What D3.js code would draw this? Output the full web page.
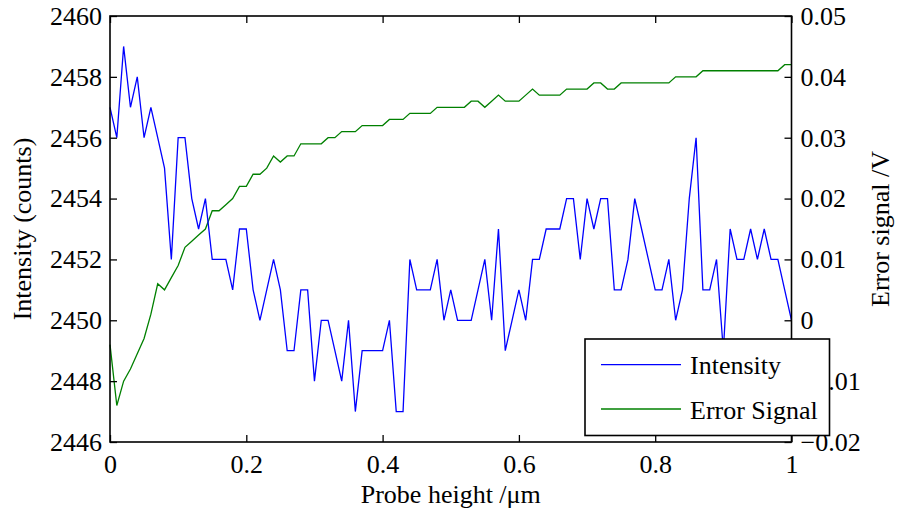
<!DOCTYPE html>
<html>
<head>
<meta charset="utf-8">
<script src="https://cdn.jsdelivr.net/npm/d3@7"></script>
<style>
  html, body { margin: 0; padding: 0; background: #fff; }
  svg { display: block; }
  text { font-family: "Liberation Serif", "Times New Roman", serif; fill: #000; }
</style>
</head>
<body>
<svg id="chart" width="897" height="514"></svg>
<script>
// ---- data ----
const probeHeight = [0,0.01,0.02,0.03,0.04,0.05,0.06,0.07,0.08,0.09,
  0.1,0.11,0.12,0.13,0.14,0.15,0.16,0.17,0.18,0.19,
  0.2,0.21,0.22,0.23,0.24,0.25,0.26,0.27,0.28,0.29,
  0.3,0.31,0.32,0.33,0.34,0.35,0.36,0.37,0.38,0.39,
  0.4,0.41,0.42,0.43,0.44,0.45,0.46,0.47,0.48,0.49,
  0.5,0.51,0.52,0.53,0.54,0.55,0.56,0.57,0.58,0.59,
  0.6,0.61,0.62,0.63,0.64,0.65,0.66,0.67,0.68,0.69,
  0.7,0.71,0.72,0.73,0.74,0.75,0.76,0.77,0.78,0.79,
  0.8,0.81,0.82,0.83,0.84,0.85,0.86,0.87,0.88,0.89,
  0.9,0.91,0.92,0.93,0.94,0.95,0.96,0.97,0.98,0.99,1];

const intensity = [2457,2456,2459,2457,2458,2456,2457,2456,2455,2452,
  2456,2456,2454,2453,2454,2452,2452,2452,2451,2453,
  2453,2451,2450,2451,2452,2451,2449,2449,2451,2451,
  2448,2450,2450,2449,2448,2450,2447,2449,2449,2449,
  2449,2450,2447,2447,2452,2451,2451,2451,2452,2450,
  2451,2450,2450,2450,2451,2452,2450,2453,2449,2450,
  2451,2450,2452,2452,2453,2453,2453,2454,2454,2452,
  2454,2453,2454,2454,2451,2451,2452,2454,2453,2452,
  2451,2451,2452,2450,2451,2454,2456,2451,2451,2452,
  2449,2453,2452,2452,2453,2452,2453,2452,2452,2451,2450];

const errorSignal = [-0.004,-0.014,-0.010,-0.008,-0.0055,-0.003,0.001,0.006,0.005,0.007,
  0.009,0.012,0.013,0.014,0.015,0.018,0.018,0.019,0.020,0.022,
  0.022,0.024,0.024,0.025,0.027,0.026,0.027,0.027,0.029,0.029,
  0.029,0.029,0.030,0.030,0.031,0.031,0.031,0.032,0.032,0.032,
  0.032,0.033,0.033,0.033,0.034,0.034,0.034,0.034,0.035,0.035,
  0.035,0.035,0.035,0.036,0.036,0.035,0.036,0.037,0.036,0.036,
  0.036,0.037,0.038,0.037,0.037,0.037,0.037,0.038,0.038,0.038,
  0.038,0.039,0.039,0.038,0.038,0.039,0.039,0.039,0.039,0.039,
  0.039,0.039,0.039,0.040,0.040,0.040,0.040,0.041,0.041,0.041,
  0.041,0.041,0.041,0.041,0.041,0.041,0.041,0.041,0.041,0.042,0.042];

const xTicks = [0,0.2,0.4,0.6,0.8,1];
const xTickLabels = ["0","0.2","0.4","0.6","0.8","1"];
const leftTicks = [2446,2448,2450,2452,2454,2456,2458,2460];
const leftTickLabels = ["2446","2448","2450","2452","2454","2456","2458","2460"];
const rightTicks = [-0.02,-0.01,0,0.01,0.02,0.03,0.04,0.05];
const rightTickLabels = ["\u22120.02","\u22120.01","0","0.01","0.02","0.03","0.04","0.05"];
const seriesNames = ["Intensity","Error Signal"];
const seriesColors = ["#0000ff","#008000"];

// ---- layout ----
const L = 110, R = 791.5, T = 16, B = 442;
const FS = 26;
const svg = d3.select("#chart");

const x = d3.scaleLinear().domain([0,1]).range([L,R]);
const yL = d3.scaleLinear().domain([2446,2460]).range([B,T]);
const yR = d3.scaleLinear().domain([-0.02,0.05]).range([B,T]);

// data lines
const lineI = d3.line().x((d,i)=>x(probeHeight[i])).y(d=>yL(d));
const lineE = d3.line().x((d,i)=>x(probeHeight[i])).y(d=>yR(d));

svg.append("path").datum(errorSignal).attr("d", lineE)
  .attr("fill","none").attr("stroke",seriesColors[1]).attr("stroke-width",1.3);
svg.append("path").datum(intensity).attr("d", lineI)
  .attr("fill","none").attr("stroke",seriesColors[0]).attr("stroke-width",1.3);

// axes
function styleAxis(g){
  g.select(".domain").remove();
  g.selectAll(".tick line").attr("stroke","#000").attr("stroke-width",1.3);
  g.selectAll(".tick text").attr("font-size",FS).style("font-family","'Liberation Serif','Times New Roman',serif");
}
svg.append("g").attr("transform",`translate(0,${B})`)
  .call(d3.axisBottom(x).tickValues(xTicks).tickFormat((d,i)=>xTickLabels[i]).tickSize(-7).tickPadding(13))
  .call(styleAxis);
svg.append("g").attr("transform",`translate(0,${T})`)
  .call(d3.axisTop(x).tickValues(xTicks).tickFormat("").tickSize(-7))
  .call(styleAxis);
svg.append("g").attr("transform",`translate(${L},0)`)
  .call(d3.axisLeft(yL).tickValues(leftTicks).tickFormat((d,i)=>leftTickLabels[i]).tickSize(-7).tickPadding(8))
  .call(styleAxis);
svg.append("g").attr("transform",`translate(${R},0)`)
  .call(d3.axisRight(yR).tickValues(rightTicks).tickFormat((d,i)=>rightTickLabels[i]).tickSize(-7).tickPadding(9))
  .call(styleAxis);

// frame
svg.append("rect").attr("x",L).attr("y",T).attr("width",R-L).attr("height",B-T)
  .attr("fill","none").attr("stroke","#000").attr("stroke-width",1.6);

// axis titles
svg.append("text").attr("x",(L+R)/2).attr("y",503).attr("text-anchor","middle")
  .attr("font-size",FS).text("Probe height /\u03bcm");
svg.append("text").attr("transform",`translate(31,${(T+B)/2}) rotate(-90)`).attr("text-anchor","middle")
  .attr("font-size",FS).text("Intensity (counts)");
svg.append("text").attr("transform",`translate(889,${(T+B)/2}) rotate(-90)`).attr("text-anchor","middle")
  .attr("font-size",FS).text("Error signal /V");

// legend
const lg = svg.append("g");
lg.append("rect").attr("x",585).attr("y",339).attr("width",244.5).attr("height",96.5)
  .attr("fill","#fff").attr("stroke","#000").attr("stroke-width",1.6);
const legY = [364.7, 409];
seriesNames.forEach((name,i)=>{
  lg.append("line").attr("x1",601).attr("x2",681).attr("y1",legY[i]).attr("y2",legY[i])
    .attr("stroke",seriesColors[i]).attr("stroke-width",1.3);
  lg.append("text").attr("x",690).attr("y",legY[i]+9.5).attr("font-size",FS).text(name);
});
</script>
</body>
</html>
